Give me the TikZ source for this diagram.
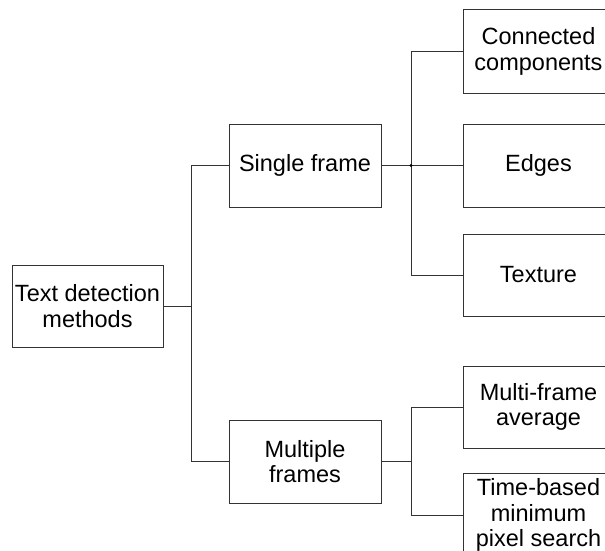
\documentclass[tikz,border=0pt]{standalone}
\usepackage{fontspec}
\setmainfont{Liberation Sans}
\begin{document}
\begin{tikzpicture}[x=1pt,y=-1pt,
  box/.style={draw=black!80, line width=1pt, fill=white, minimum width=151pt,
    minimum height=83pt, inner sep=0pt, align=center,
    font=\fontsize{23.5}{25.5}\selectfont},
  link/.style={draw=black!80, line width=1pt}]
  \useasboundingbox (0,0) rectangle (605,551);
  \clip (0,0) rectangle (605,551);
  \fill[white] (0,0) rectangle (605,551);

  % tree levels
  \node[box, minimum height=82pt] (root) at (87.5,306) {Text detection\\methods};
  \node[box, minimum width=152pt] (single) at (305,165.5) {Single frame};
  \node[box, minimum width=152pt] (multi) at (305,461.5) {Multiple\\frames};

  \node[box] (cc) at (538.5,51.5) {Connected\\components};
  \node[box] (edges) at (538.5,165.5) {Edges};
  \node[box, minimum height=82pt] (texture) at (538.5,275) {Texture};
  \node[box, minimum height=82pt] (mfa) at (538.5,407) {Multi-frame\\average};
  \node[box] (tb) at (538.5,515) {Time-based\\minimum\\pixel search};

  % junction points of the elbow connectors
  \coordinate (j0) at (191,306);
  \coordinate (j1) at (411,165.5);
  \coordinate (j2) at (411,461.5);

  \draw[link] (root.east) -- (j0);
  \draw[link] (j0) |- (single.west);
  \draw[link] (j0) |- (multi.west);

  \draw[link] (single.east) -- (j1);
  \draw[link] (j1) |- (cc.west);
  \draw[link] (j1) -- (edges.west);
  \draw[link] (j1) |- (texture.west);
  \fill[black] (j1) circle (1.6pt);

  \draw[link] (multi.east) -- (j2);
  \draw[link] (j2) |- (mfa.west);
  \draw[link] (j2) |- (tb.west);
\end{tikzpicture}
\end{document}
